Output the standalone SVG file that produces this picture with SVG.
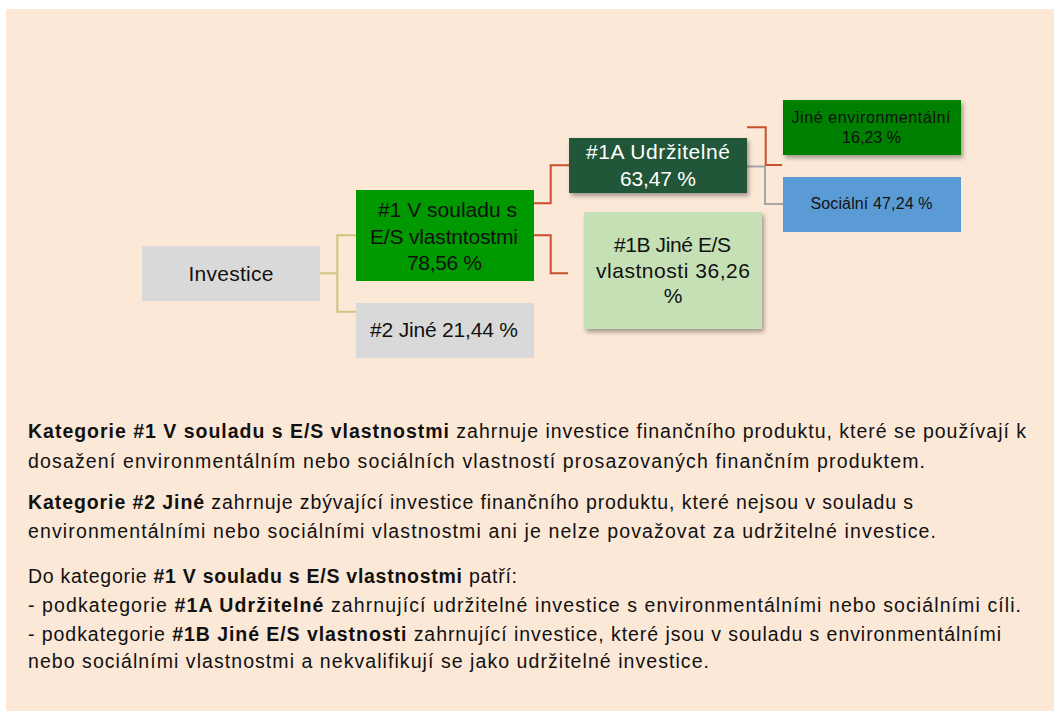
<svg xmlns="http://www.w3.org/2000/svg" width="1054" height="711" viewBox="0 0 1054 711">
<defs>
<filter id="sh" x="-10%" y="-10%" width="125%" height="135%">
<feDropShadow dx="2" dy="3" stdDeviation="2" flood-color="#000" flood-opacity="0.35"/>
</filter>
<style>
.bx{font-family:"Liberation Sans",Arial,sans-serif;font-size:21px;fill:#111;text-anchor:middle}
.sm{font-family:"Liberation Sans",Arial,sans-serif;font-size:16px;fill:#111;text-anchor:middle}
.body{font-family:"Liberation Sans",Arial,sans-serif;font-size:19.5px;fill:#111}
.b{font-weight:bold}
.red{fill:none;stroke:#C8502D;stroke-width:2}
.kh{fill:none;stroke:#D3C47C;stroke-width:2}
.gr{fill:none;stroke:#A6A6A6;stroke-width:2}
</style>
</defs>
<rect x="6" y="9" width="1048" height="702" fill="#FBE8D7"/>
<g id="connectors">
<polyline class="kh" points="320,273.3 337.3,273.3"/>
<polyline class="kh" points="356,235.3 337.3,235.3 337.3,311.7 356,311.7"/>
<polyline class="red" points="534,203.3 550.7,203.3 550.7,165.3 569,165.3"/>
<polyline class="red" points="534,235.3 550.7,235.3 550.7,273.3 568,273.3"/>
<polyline class="gr" points="747,166.5 765,166.5 765,204 783,204"/>
<polyline class="red" points="747,127.3 765.7,127.3 765.7,165 782,165"/>
</g>
<g id="investice">
<rect x="142" y="246" width="178" height="55" fill="#D9D9D9"/>
<text class="bx" x="231" y="280.7" textLength="85" font-size="22">Investice</text>
</g>
<g id="n1">
<rect x="356" y="190" width="178" height="91" fill="#009900"/>
<text class="bx" x="447.5" y="217.3" textLength="139">#1 V souladu s</text>
<text class="bx" x="444" y="244" textLength="148">E/S vlastntostmi</text>
<text class="bx" x="444.5" y="270" textLength="75">78,56 %</text>
</g>
<g id="n2">
<rect x="356" y="303" width="178" height="55" fill="#D9D9D9"/>
<text class="bx" x="444" y="336.7" textLength="148">#2 Jiné 21,44 %</text>
</g>
<g id="n1a">
<rect x="569" y="138" width="178" height="55" fill="#245637" filter="url(#sh)"/>
<text class="bx" x="658" y="159" textLength="144" style="fill:#fff">#1A Udržitelné</text>
<text class="bx" x="658" y="185.7" textLength="76" style="fill:#fff">63,47 %</text>
</g>
<g id="n1b">
<rect x="584" y="212" width="178" height="117" fill="#C5E0B4" filter="url(#sh)"/>
<text class="bx" x="672.5" y="251.7" textLength="117">#1B Jiné E/S</text>
<text class="bx" x="673" y="278.3" textLength="154">vlastnosti 36,26</text>
<text class="bx" x="673" y="303.3">%</text>
</g>
<g id="env">
<rect x="783" y="100" width="178" height="55" fill="#008000" filter="url(#sh)"/>
<text class="sm" x="871" y="123.3" textLength="159">Jiné environmentální</text>
<text class="sm" x="871.5" y="143.3" textLength="59">16,23 %</text>
</g>
<g id="soc">
<rect x="783" y="177" width="178" height="55" fill="#5B9BD5"/>
<text class="sm" x="871.5" y="209.3" textLength="122">Sociální 47,24 %</text>
</g>
<g id="legend">
<text class="body" x="28" y="438" textLength="998"><tspan class="b">Kategorie #1 V souladu s E/S vlastnostmi</tspan> zahrnuje investice finančního produktu, které se používají k</text>
<text class="body" x="28" y="468" textLength="897">dosažení environmentálním nebo sociálních vlastností prosazovaných finančním produktem.</text>
<text class="body" x="28" y="509" textLength="885"><tspan class="b">Kategorie #2 Jiné</tspan> zahrnuje zbývající investice finančního produktu, které nejsou v souladu s</text>
<text class="body" x="28" y="538" textLength="908">environmentálními nebo sociálními vlastnostmi ani je nelze považovat za udržitelné investice.</text>
<text class="body" x="28" y="583" textLength="489">Do kategorie <tspan class="b">#1 V souladu s E/S vlastnostmi</tspan> patří:</text>
<text class="body" x="28" y="612" textLength="993">- podkategorie <tspan class="b">#1A Udržitelné</tspan> zahrnující udržitelné investice s environmentálními nebo sociálními cíli.</text>
<text class="body" x="28" y="641" textLength="973">- podkategorie <tspan class="b">#1B Jiné E/S vlastnosti</tspan> zahrnující investice, které jsou v souladu s environmentálními</text>
<text class="body" x="28" y="668" textLength="681">nebo sociálními vlastnostmi a nekvalifikují se jako udržitelné investice.</text>
</g>
</svg>
